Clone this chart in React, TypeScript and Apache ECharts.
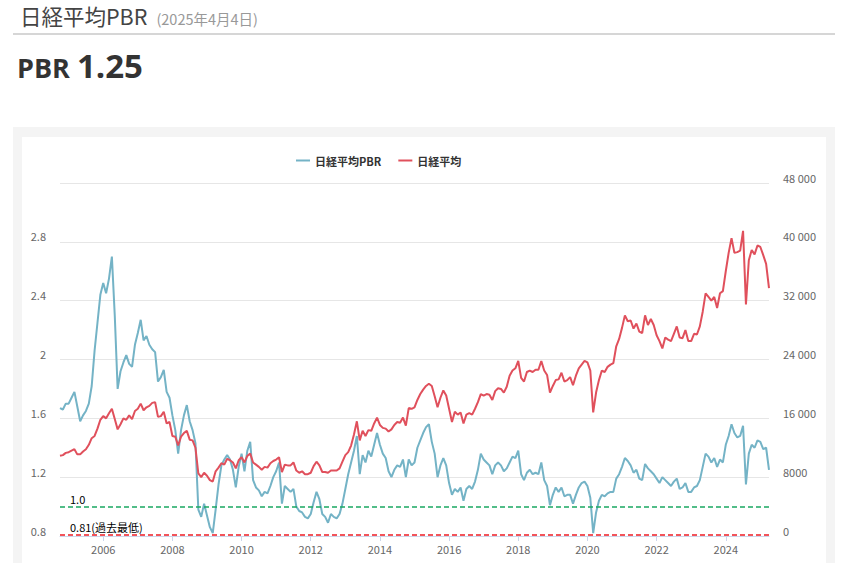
import React, { useEffect, useRef } from "react";
import * as echarts from "echarts";

// Monthly categories: 2004-10 .. 2025-04
const START_YEAR = 2004;
const START_MONTH = 10;
const MONTH_COUNT = 247;
const months: string[] = [];
for (let i = 0; i < MONTH_COUNT; i++) {
  const m0 = START_MONTH - 1 + i;
  const y = START_YEAR + Math.floor(m0 / 12);
  const m = (m0 % 12) + 1;
  months.push(`${y}-${String(m).padStart(2, "0")}`);
}

// 日経平均PBR (monthly)
const pbrValues: number[] = [
  1.67, 1.66, 1.70, // 2004 Oct-Dec
  1.70, 1.74, 1.78, 1.68, 1.58, 1.62, 1.65, 1.70, 1.82, 2.06, 2.25, 2.44, // 2005
  2.52, 2.45, 2.55, 2.70, 2.30, 1.80, 1.92, 1.98, 2.03, 1.97, 1.95, 2.10, // 2006
  2.18, 2.27, 2.13, 2.16, 2.10, 2.07, 2.05, 1.85, 1.88, 1.93, 1.78, 1.74, // 2007
  1.62, 1.52, 1.36, 1.52, 1.62, 1.69, 1.58, 1.52, 1.43, 0.98, 0.93, 1.02, // 2008
  0.94, 0.86, 0.82, 0.98, 1.15, 1.28, 1.32, 1.35, 1.32, 1.25, 1.13, 1.27, // 2009
  1.36, 1.24, 1.38, 1.44, 1.18, 1.13, 1.11, 1.07, 1.10, 1.09, 1.14, 1.20, // 2010
  1.24, 1.30, 1.02, 1.14, 1.12, 1.10, 1.12, 1.00, 0.97, 0.96, 0.93, 0.92, // 2011
  0.95, 1.03, 1.10, 1.05, 0.95, 0.93, 0.89, 0.95, 0.93, 0.92, 0.95, 1.02, // 2012
  1.12, 1.22, 1.30, 1.38, 1.48, 1.22, 1.35, 1.30, 1.38, 1.34, 1.42, 1.50, // 2013
  1.42, 1.36, 1.33, 1.24, 1.20, 1.25, 1.28, 1.27, 1.32, 1.20, 1.32, 1.28, // 2014
  1.30, 1.40, 1.45, 1.50, 1.54, 1.56, 1.44, 1.36, 1.20, 1.28, 1.33, 1.28, // 2015
  1.16, 1.08, 1.12, 1.10, 1.13, 1.04, 1.12, 1.14, 1.12, 1.17, 1.25, 1.36, // 2016
  1.32, 1.30, 1.28, 1.22, 1.28, 1.30, 1.28, 1.24, 1.26, 1.30, 1.34, 1.33, // 2017
  1.38, 1.22, 1.18, 1.23, 1.25, 1.22, 1.23, 1.22, 1.30, 1.18, 1.14, 1.01, // 2018
  1.08, 1.13, 1.10, 1.13, 1.07, 1.08, 1.08, 1.02, 1.08, 1.13, 1.16, 1.17, // 2019
  1.14, 1.06, 0.82, 0.96, 1.04, 1.08, 1.07, 1.09, 1.10, 1.10, 1.19, 1.22, // 2020
  1.27, 1.33, 1.31, 1.28, 1.23, 1.25, 1.19, 1.18, 1.29, 1.26, 1.24, 1.22, // 2021
  1.19, 1.16, 1.20, 1.18, 1.16, 1.14, 1.17, 1.19, 1.12, 1.13, 1.16, 1.10, // 2022
  1.10, 1.13, 1.14, 1.18, 1.27, 1.36, 1.34, 1.30, 1.33, 1.27, 1.32, 1.30, // 2023
  1.42, 1.48, 1.56, 1.50, 1.47, 1.48, 1.55, 1.15, 1.36, 1.42, 1.40, 1.45, // 2024
  1.44, 1.39, 1.40, 1.25, // 2025 Jan-Apr
];

// 日経平均 (monthly)
const nikkeiValues: number[] = [
  10900, 11000, 11300, // 2004 Oct-Dec
  11400, 11600, 11800, 11100, 11100, 11500, 11800, 12400, 13300, 13600, 14600, 15800, // 2005
  16300, 16000, 16700, 17300, 15900, 14500, 15200, 16000, 15800, 16400, 15900, 17000, // 2006
  17300, 18000, 17100, 17500, 17700, 18100, 18200, 16200, 16300, 16900, 15300, 15500, // 2007
  13600, 13500, 12300, 13500, 14000, 14300, 13100, 13000, 12000, 8500, 8000, 8600, // 2008
  8200, 7600, 7400, 8800, 9300, 9900, 9700, 10500, 10300, 10000, 9200, 10300, // 2009
  10700, 10000, 10900, 11200, 10000, 9700, 9400, 9000, 9400, 9300, 9900, 10200, // 2010
  10400, 10700, 8700, 9700, 9600, 9600, 10000, 8900, 8600, 8800, 8400, 8400, // 2011
  8600, 9500, 10100, 9600, 8700, 8700, 8600, 8900, 8900, 8900, 9200, 10100, // 2012
  11000, 11400, 12300, 13800, 15600, 13000, 14300, 13600, 14400, 14300, 15300, 16100, // 2013
  15100, 14700, 14600, 14200, 14500, 15100, 15500, 15400, 16100, 15000, 17400, 17300, // 2014
  17500, 18500, 19300, 19900, 20400, 20700, 20400, 19000, 17500, 18800, 19800, 19100, // 2015
  17300, 15500, 16900, 16500, 16800, 15300, 16500, 16700, 16500, 17300, 18200, 19300, // 2016
  19100, 19300, 19200, 18500, 19700, 20100, 20000, 19500, 20300, 21800, 22500, 22800, // 2017
  23800, 21500, 21000, 22300, 22500, 22300, 22600, 22600, 23800, 22500, 21900, 19500, // 2018
  20400, 21200, 21300, 22200, 21000, 21200, 21600, 20500, 21800, 22800, 23300, 23800, // 2019
  23600, 22500, 16800, 19500, 21200, 22500, 22300, 23000, 23300, 23500, 25800, 26800, // 2020
  28300, 30000, 29200, 29300, 28200, 28900, 27800, 27600, 30000, 28700, 29500, 28700, // 2021
  27300, 26500, 25500, 27000, 26700, 26500, 27500, 28500, 27000, 26900, 28000, 26500, // 2022
  26500, 27500, 27400, 28500, 30500, 33000, 32500, 32000, 32500, 31000, 33000, 33300, // 2023
  36000, 38500, 40500, 38500, 38600, 38800, 41500, 31500, 37500, 38900, 38300, 39500, // 2024
  39300, 38200, 37000, 33700, // 2025 Jan-Apr
];

const pbrTicks = { min: 0.8, max: 3.2, interval: 0.4 };
const nikkeiTicks = { min: 0, max: 48000, interval: 8000 };

const FONT = '"Noto Sans CJK JP", "Noto Sans", sans-serif';

function isEvenYearStart(_idx: number, value: string) {
  return value.endsWith("-01") && parseInt(value.slice(0, 4), 10) % 2 === 0;
}

function Chart() {
  const ref = useRef<HTMLDivElement>(null);
  useEffect(() => {
    if (!ref.current) return;
    const chart = echarts.init(ref.current, undefined, { renderer: "svg" });
    chart.setOption({
      animation: false,
      textStyle: { fontFamily: FONT },
      legend: {
        left: 269,
        top: 13,
        itemWidth: 14,
        itemHeight: 2,
        itemGap: 17,
        icon: "rect",
        textStyle: { fontSize: 11, fontWeight: "bold", color: "#333", fontFamily: FONT },
        data: ["日経平均PBR", "日経平均"],
      },
      grid: { left: 38, right: 57, top: 46, bottom: 27, containLabel: false },
      xAxis: {
        type: "category",
        data: months,
        boundaryGap: false,
        axisLine: { show: true, lineStyle: { color: "#ccd6eb" } },
        axisTick: { show: true, interval: isEvenYearStart, length: 5, lineStyle: { color: "#ccd6eb" } },
        axisLabel: {
          interval: isEvenYearStart,
          formatter: (v: string) => v.slice(0, 4),
          color: "#666",
          fontSize: 11,
          margin: 7,
          fontFamily: FONT,
        },
        splitLine: { show: false },
      },
      yAxis: [
        {
          type: "value",
          min: pbrTicks.min,
          max: pbrTicks.max,
          interval: pbrTicks.interval,
          axisLine: { show: false },
          axisTick: { show: false },
          splitLine: { show: true, lineStyle: { color: "#e6e6e6", width: 1 } },
          axisLabel: {
            color: "#666",
            fontSize: 11,
            margin: 14,
            verticalAlign: "bottom",
            lineHeight: 11,
            fontFamily: FONT,
            formatter: (v: number) => {
              const r = Math.round(v * 10) / 10;
              if (r >= 3.2) return "";
              return String(r);
            },
          },
        },
        {
          type: "value",
          min: nikkeiTicks.min,
          max: nikkeiTicks.max,
          interval: nikkeiTicks.interval,
          axisLine: { show: false },
          axisTick: { show: false },
          splitLine: { show: false },
          axisLabel: {
            color: "#666",
            fontSize: 11,
            margin: 14,
            verticalAlign: "bottom",
            lineHeight: 11,
            fontFamily: FONT,
            formatter: (v: number) =>
              v >= 10000 ? `${Math.floor(v / 1000)} ${String(v % 1000).padStart(3, "0")}` : String(v),
          },
        },
      ],
      series: [
        {
          name: "日経平均PBR",
          type: "line",
          yAxisIndex: 0,
          data: pbrValues,
          showSymbol: false,
          symbol: "none",
          color: "#74b3c6",
          lineStyle: { color: "#74b3c6", width: 2 },
          z: 2,
          markLine: {
            silent: true,
            symbol: "none",
            animation: false,
            data: [
              {
                yAxis: 1.0,
                lineStyle: { color: "#1aa862", type: [5, 3], width: 1.5 },
                label: {
                  show: true,
                  position: "insideStartTop",
                  formatter: "1.0",
                  color: "#000",
                  fontSize: 11,
                  distance: [10, 2],
                  fontFamily: FONT,
                },
              },
              {
                yAxis: 0.81,
                lineStyle: { color: "#ee1c25", type: [5, 3], width: 1.5 },
                label: {
                  show: true,
                  position: "insideStartTop",
                  formatter: "0.81(過去最低)",
                  color: "#000",
                  fontSize: 11,
                  distance: [10, 2],
                  fontFamily: FONT,
                },
              },
            ],
          },
        },
        {
          name: "日経平均",
          type: "line",
          yAxisIndex: 1,
          data: nikkeiValues,
          showSymbol: false,
          symbol: "none",
          color: "#e0505c",
          lineStyle: { color: "#e0505c", width: 2 },
          z: 3,
        },
      ],
    });
    return () => chart.dispose();
  }, []);
  return <div ref={ref} style={{ width: 804, height: 426 }} />;
}

export default function App() {
  return (
    <div
      style={{
        position: "absolute",
        left: 0,
        top: 0,
        width: 848,
        height: 563,
        overflow: "hidden",
        background: "#fff",
        fontFamily: FONT,
      }}
    >
      <div style={{ position: "absolute", left: 20, top: 0, display: "flex", alignItems: "baseline", whiteSpace: "nowrap" }}>
        <span style={{ fontSize: 21.5, color: "#444", fontFamily: FONT }}>日経平均PBR</span>
        <span style={{ fontSize: 14.5, color: "#999", marginLeft: 9 }}>(2025年4月4日)</span>
      </div>
      <div style={{ position: "absolute", left: 13, top: 33, width: 822, height: 2, background: "#d6d6d6" }} />
      <div
        style={{
          position: "absolute",
          left: 17,
          top: 44,
          height: 44,
          display: "flex",
          alignItems: "baseline",
          color: "#333",
          fontFamily: '"Open Sans", "Noto Sans", sans-serif',
          fontWeight: 700,
          whiteSpace: "nowrap",
        }}
      >
        <span style={{ fontSize: 27, lineHeight: "44px" }}>PBR</span>
        <span style={{ fontSize: 33, lineHeight: "44px", marginLeft: 7 }}>1.25</span>
      </div>
      <div style={{ position: "absolute", left: 13, top: 127, width: 822, height: 436, background: "#f4f4f4" }} />
      <div style={{ position: "absolute", left: 22, top: 137, width: 804, height: 426, background: "#fff" }}>
        <Chart />
      </div>
    </div>
  );
}
